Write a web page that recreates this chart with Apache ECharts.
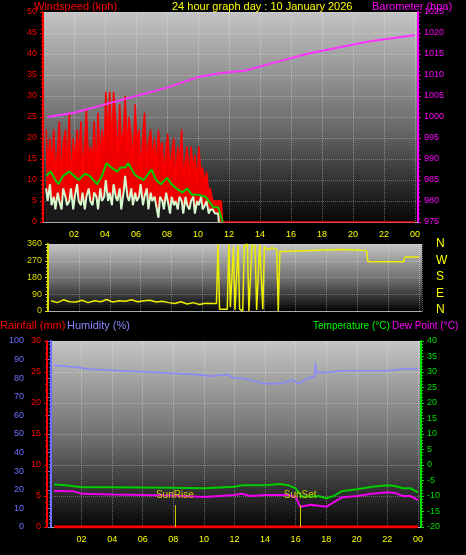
<!DOCTYPE html>
<html><head><meta charset="utf-8">
<script src="https://cdn.jsdelivr.net/npm/echarts@6/dist/echarts.min.js"></script>
<style>html,body{margin:0;background:#000}#c{width:466px;height:555px}</style></head>
<body><div id="c"></div>
<script>
// ---- data ----
const gustHours = [0.2,0.3,0.45,0.55,0.7,0.8,0.95,1.05,1.2,1.3,1.45,1.55,1.7,1.8,1.95,2.05,2.2,2.3,2.45,2.55,2.7,2.8,2.95,3.05,3.2,3.3,3.45,3.55,3.7,3.8,3.95,4.05,4.2,4.3,4.45,4.55,4.7,4.8,4.95,5.05,5.2,5.3,5.45,5.55,5.7,5.8,5.95,6.05,6.2,6.3,6.45,6.55,6.7,6.8,6.95,7.05,7.2,7.3,7.45,7.55,7.7,7.8,7.95,8.05,8.2,8.3,8.45,8.55,8.7,8.8,8.95,9.05,9.2,9.3,9.45,9.55,9.7,9.8,9.95,10.05,10.2,10.3,10.45,10.55,10.7,10.8,10.95,11.2,11.5,11.6,24];
const gust = [22,14,20,13,22,11,18,24,10,19,22,12,26,9,20,14,22,16,24,11,20,27,13,18,15,24,12,26,14,22,17,31,20,31,18,31,24,15,28,19,22,30,17,25,20,14,28,19,22,12,21,26,13,19,22,15,20,12,22,17,19,11,18,21,12,16,20,10,18,13,22,11,15,18,10,18,12,16,9,18,11,13,9,12,7,8,5,5,5,0,0];
const speedHours = [0.2,0.3,0.45,0.55,0.7,0.8,0.95,1.05,1.2,1.3,1.45,1.55,1.7,1.8,1.95,2.05,2.2,2.3,2.45,2.55,2.7,2.8,2.95,3.05,3.2,3.3,3.45,3.55,3.7,3.8,3.95,4.05,4.2,4.3,4.45,4.55,4.7,4.8,4.95,5.05,5.2,5.3,5.45,5.55,5.7,5.8,5.95,6.05,6.2,6.3,6.45,6.55,6.7,6.8,6.95,7.05,7.2,7.3,7.45,7.55,7.7,7.8,7.95,8.05,8.2,8.3,8.45,8.55,8.7,8.8,8.95,9.05,9.2,9.3,9.45,9.55,9.7,9.8,9.95,10.05,10.2,10.3,10.45,10.55,10.7,10.8,10.95,11.1,11.3,11.35];
const speed = [8,5,9,4,6,3,7,5,3,8,6,4,5,8,3,6,9,5,4,7,3,6,8,5,4,7,6,3,8,5,6,10,5,7,4,9,6,5,8,3,7,11,6,5,8,4,7,5,6,9,4,6,8,3,7,5,6,4,1,6,5,3,7,5,2,6,4,5,3,6,5,2,6,4,3,5,6,2,5,4,6,3,4,5,2,3,3,2,2,0];
const avgHours = [0.2,0.5,0.8,1.0,1.3,1.7,2.0,2.3,2.7,3.0,3.5,3.8,4.1,4.4,4.8,5.0,5.3,5.5,5.8,6.0,6.5,7.0,7.3,7.6,8.0,8.3,8.6,9.0,9.3,9.6,10.0,10.5,11.0,11.3,11.6];
const avgWind = [11,12,10,9,11,12,11,10,11.5,11,9,11,14,13,12,13,13,14,12,11,10,12.5,10,9,10.5,9,8,7,8,6.5,6.5,6,3.5,3.5,0];
const baroHours = [0.3,2,4,6,8,10,11.5,13,15,17,19,21,23,24];
const baro = [1000,1001,1003,1005,1007,1009.5,1010.5,1011,1013,1015,1016.5,1018,1019,1019.5];
const dirHours = [0.2,0.6,1.0,1.4,1.8,2.2,2.6,3.0,3.4,3.8,4.2,4.6,5.0,5.4,5.8,6.2,6.6,7.0,7.4,7.8,8.2,8.6,9.0,9.4,9.8,10.2,10.6,10.9,11.0,11.1,11.6,11.7,11.8,12.0,12.1,12.3,12.4,12.6,12.7,12.9,13.0,13.2,13.4,13.5,13.7,13.9,14.0,14.2,14.5,14.8,14.9,15.0,17,19,20.6,20.7,23.0,23.1,24];
const windDir = [55,45,60,50,48,58,45,55,50,62,48,55,52,60,50,55,58,48,52,45,40,50,38,45,35,42,40,40,360,10,10,360,20,345,5,355,10,0,350,360,0,355,350,5,360,10,345,330,340,330,0,320,325,330,325,265,265,290,290];
const humHours = [0.2,1.5,2.5,4.5,7,9.5,10.5,11.5,12,12.5,13,14,15,15.8,16.2,16.8,17.25,17.3,17.35,18,19,22,23,24];
const humidity = [87,86,85,84,83,82,81,82,80,80,79,77,77,79,77,80,81,88,83,83,84,84,85,85];
const tempHours = [0.2,1,2,4,8,10,12,12.5,14,15,15.5,16,16.4,17,17.5,18,18.5,19,20,21,22,22.5,23,23.5,24];
const temperature = [-6.3,-6.5,-7.2,-7.2,-7.3,-7.5,-7,-6.5,-6.5,-6.1,-6.5,-7.5,-10.2,-10.2,-10,-10.7,-10,-8.5,-7.8,-7,-6.5,-6.8,-7.5,-7.5,-8.8];
const dewHours = [0.2,1.5,2,4,8,10,12,12.5,13,14,15.5,16,16.3,17,18,18.5,19,20,21,22,22.5,23,23.5,24];
const dewPoint = [-8.4,-8.5,-9.3,-9.5,-9.8,-10.3,-9.7,-9.3,-10,-9.7,-9.7,-10.3,-13.5,-12.8,-13.5,-12,-10.5,-10,-9.3,-8.8,-9,-10,-10,-11.3];
const rainHours = [0.2,24];
const rainfall = [0,0];
const sunRise = 8.1, sunSet = 16.3;
const compass = ['N','W','S','E','N'];

const pair = (xs, ys) => xs.map((x,i)=>[x,ys[i]]);
const bg = {type:'linear',x:0,y:0,x2:0,y2:1,colorStops:[{offset:0,color:'#c4c4c4'},{offset:0.55,color:'#6a6a6a'},{offset:1,color:'#050505'}]};
const F = 'Liberation Sans';
const grids = [
  {left:43,right:48,top:12,height:210},
  {left:48,right:44,top:244,height:67},
  {left:51,right:45,top:341,height:186}
];
grids.forEach(g=>{g.show=true;g.backgroundColor=bg;g.borderWidth=0;});
const pad = v => { const h = v%24; return (h<10?'0':'')+h; };
function xAx(i, labels){
  return {type:'value',gridIndex:i,min:0,max:24.2,interval:2,
    axisLine:{show:true,lineStyle:{color:'#aaa'}},
    axisTick:{show:false},minorTick:{show:false},
    axisLabel:{show:labels,color:'#ffff00',fontSize:9,fontFamily:F,formatter:v=>v===0||v>24?'':pad(v),showMaxLabel:false},
    splitLine:{show:true,lineStyle:{color:'rgba(255,255,255,0.35)',type:'dotted'}},
    minorSplitLine:{show:false}};
}
function yAx(i,pos,min,max,intv,color,extra){
  return Object.assign({type:'value',gridIndex:i,position:pos,min:min,max:max,interval:intv,
    axisLine:{show:true,lineStyle:{color:color,width:2}},
    axisTick:{show:true,length:3,lineStyle:{color:color}},
    minorTick:{show:true,splitNumber:5,length:2,lineStyle:{color:color}},
    axisLabel:{color:color,fontSize:9,fontFamily:F,margin:6,formatter:v=>String(v)},
    splitLine:{show:false}},extra||{});
}
const T = (x,y,text,fill,size) => ({type:'text',left:x,top:y,style:{text:text,fill:fill,fontSize:size,fontFamily:F}});
const chart = echarts.init(document.getElementById('c'));
chart.setOption({
  backgroundColor:'#000',animation:false,
  grid:grids,
  xAxis:[xAx(0,true),xAx(1,false),xAx(2,true)],
  yAxis:[
    yAx(0,'left',0,50,5,'#ff0000',{splitLine:{show:true,lineStyle:{color:'rgba(255,255,255,0.3)',type:'dotted'}}}),
    yAx(0,'right',975,1025,5,'#ff00ff'),
    yAx(1,'left',0,360,90,'#dddd00',{splitLine:{show:true,lineStyle:{color:'rgba(255,255,255,0.3)',type:'dotted'}}}),
    yAx(2,'left',0,100,10,'#7070ff',{offset:21}),
    yAx(2,'left',0,30,5,'#ff0000',{offset:4,splitLine:{show:true,lineStyle:{color:'rgba(255,255,255,0.3)',type:'dotted'}}}),
    yAx(2,'right',-20,40,5,'#00dd00')
  ],
  series:[
    {type:'line',xAxisIndex:0,yAxisIndex:0,data:pair(gustHours,gust),symbol:'none',lineStyle:{color:'#ff0000',width:1.5},areaStyle:{color:'#ee0000',opacity:1},z:2},
    {type:'line',xAxisIndex:0,yAxisIndex:0,data:pair(speedHours,speed),symbol:'none',lineStyle:{color:'#d8f8d0',width:2},areaStyle:{color:'#1a1a1a',opacity:1},z:3},
    {type:'line',xAxisIndex:0,yAxisIndex:0,data:pair(avgHours,avgWind),symbol:'none',lineStyle:{color:'#00cc00',width:2},z:4},
    {type:'line',xAxisIndex:0,yAxisIndex:1,data:pair(baroHours,baro),symbol:'none',lineStyle:{color:'#ff33ff',width:2},z:5},
    {type:'line',xAxisIndex:1,yAxisIndex:2,data:pair(dirHours,windDir),symbol:'none',lineStyle:{color:'#eeee00',width:1.5}},
    {type:'line',xAxisIndex:2,yAxisIndex:3,data:pair(humHours,humidity),symbol:'none',lineStyle:{color:'#8888ff',width:1.5}},
    {type:'line',xAxisIndex:2,yAxisIndex:4,data:pair(rainHours,rainfall),symbol:'none',lineStyle:{color:'#ff0000',width:3},
      markLine:{symbol:'none',silent:true,lineStyle:{color:'#cccc00',type:'solid',width:1},
        label:{show:false},
        data:[[{coord:[sunRise,0]},{coord:[sunRise,3.5],label:{show:true,position:'end',formatter:'SunRise',color:'#cccc00',fontSize:10,fontFamily:F}}],
              [{coord:[sunSet,0]},{coord:[sunSet,3.5],label:{show:true,position:'end',formatter:'SunSet',color:'#cccc00',fontSize:10,fontFamily:F}}]]}},
    {type:'line',xAxisIndex:2,yAxisIndex:5,data:pair(tempHours,temperature),symbol:'none',lineStyle:{color:'#00cc00',width:2}},
    {type:'line',xAxisIndex:2,yAxisIndex:5,data:pair(dewHours,dewPoint),symbol:'none',lineStyle:{color:'#ee00ee',width:2}}
  ],
  graphic:[
    T(34,1,'Windspeed (kph)','#ff0000',11),
    T(172,1,'24 hour graph day : 10 January 2026','#ffff00',11),
    T(372,1,'Barometer (hpa)','#ff00ff',11),
    T(0,320,'Rainfall (mm)','#ff0000',11),
    T(67,320,'Humidity (%)','#8888ff',11),
    T(313,321,'Temperature (°C)','#00ff00',10),
    T(392,321,'Dew Point (°C)','#ff00ff',10)
  ].concat(compass.map((c,i)=>T(436,238+i*16.5,c,'#ffff00',12)))
});
</script></body></html>
